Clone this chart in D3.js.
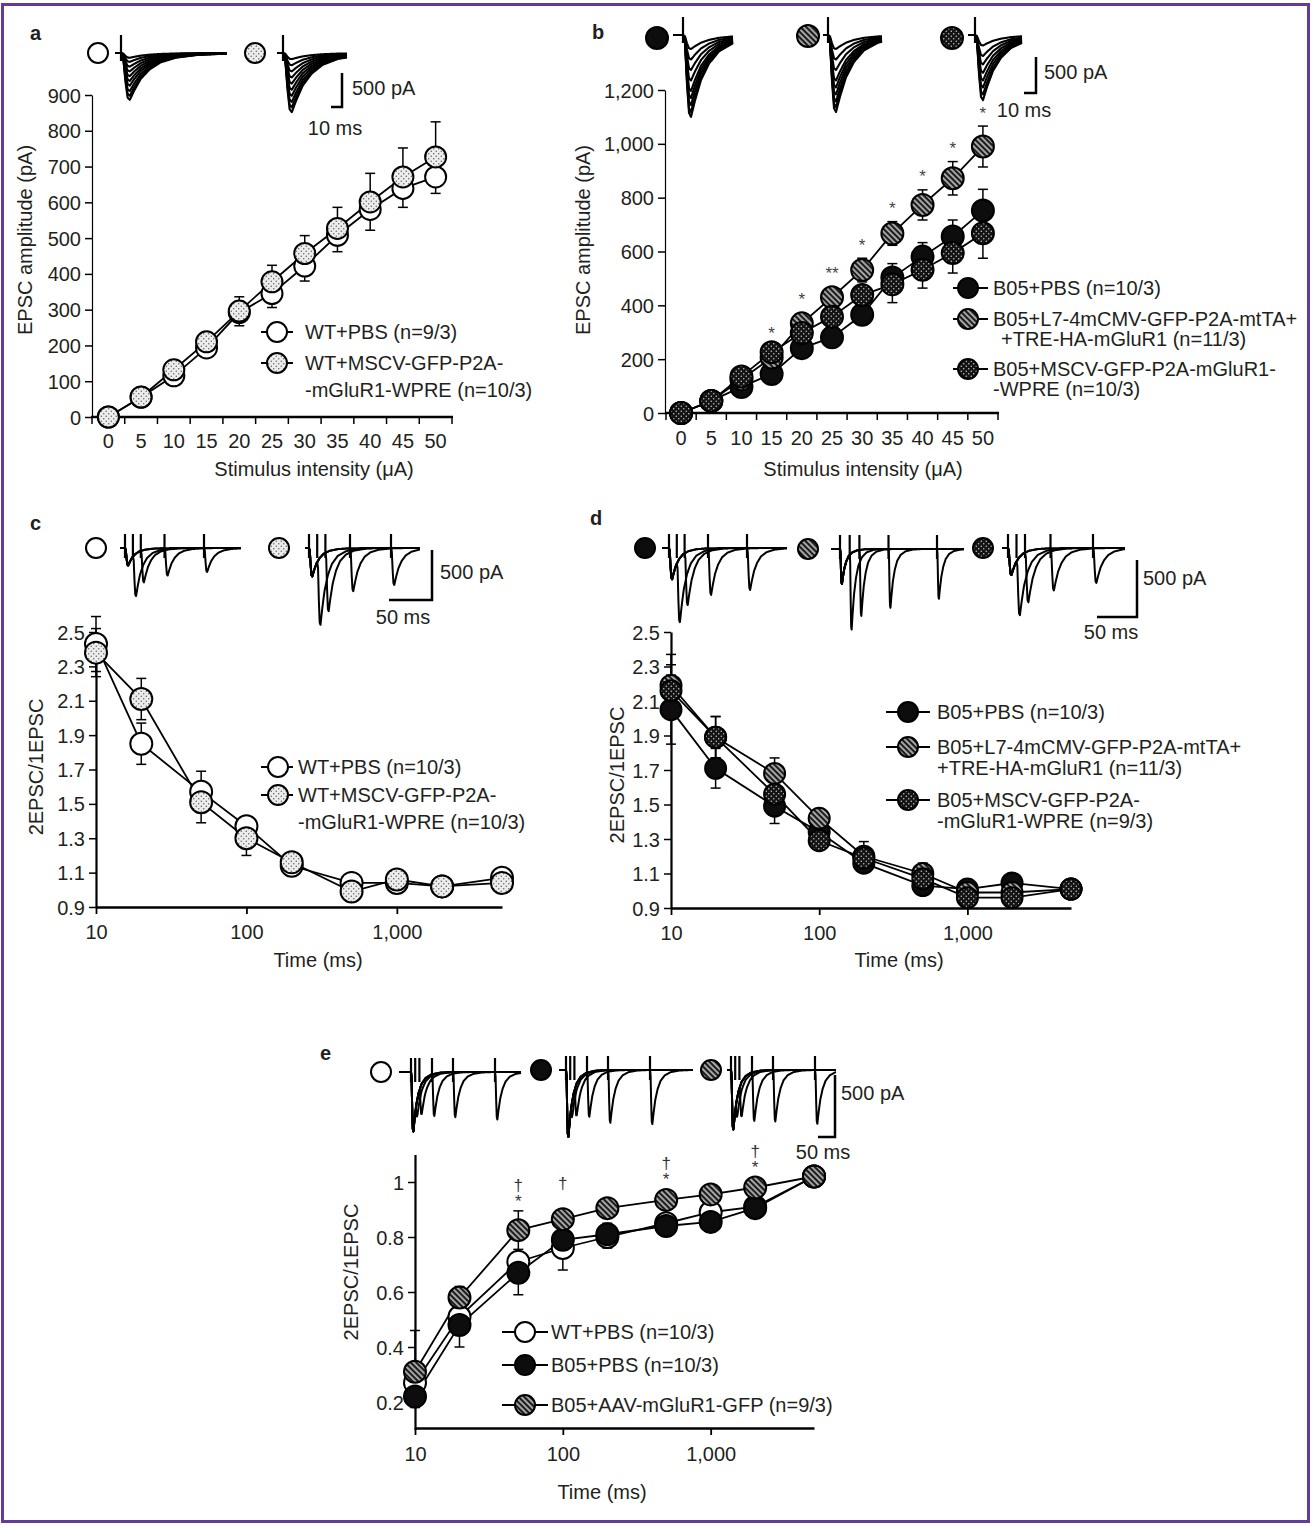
<!DOCTYPE html>
<html><head><meta charset="utf-8">
<script src="https://cdnjs.cloudflare.com/ajax/libs/d3/7.8.5/d3.min.js"></script>
<style>
body{margin:0;background:#fff}
svg{display:block}
text{font-family:"Liberation Sans",Arial,Helvetica,sans-serif;font-size:20px;fill:#231f20}
</style>
</head><body>
<svg id="fig" width="1316" height="1526"></svg>
<script>
// ---------------- DATA ----------------
const stimCats = ["0","5","10","15","20","25","30","35","40","45","50"];
// panel a (EPSC amplitude, pA)
const aWT      = [0, 55, 115, 193, 292, 345, 422, 508, 580, 639, 671];
const aWTErr   = [0, 0, 8, 10, 37, 39, 42, 46, 58, 53, 46];
const aMSCV    = [0, 56, 132, 210, 296, 378, 457, 527, 601, 671, 727];
const aMSCVErr = [0, 0, 8, 10, 40, 46, 50, 59, 80, 81, 98];
// panel b
const bPBS     = [0, 45, 97, 145, 241, 281, 365, 503, 581, 656, 752];
const bPBSErr  = [0, 0, 0, 0, 0, 0, 0, 52, 52, 61, 79];
const bL7      = [0, 45, 125, 206, 333, 430, 531, 667, 773, 872, 990];
const bL7Err   = [0, 0, 0, 0, 0, 0, 44, 44, 56, 62, 76];
const bMSCV    = [0, 45, 136, 226, 297, 358, 438, 478, 532, 594, 668];
const bMSCVErr = [0, 0, 0, 0, 0, 0, 0, 68, 68, 74, 93];
const bSig     = ["", "", "", "*", "*", "**", "*", "*", "*", "*", "*"];
// paired-pulse intervals (ms)
const ppTimes  = [10, 20, 50, 100, 200, 500, 1000, 2000, 5000];
// panel c
const cWT      = [2.43, 1.85, 1.57, 1.37, 1.14, 1.04, 1.04, 1.02, 1.07];
const cWTErr   = [0.16, 0.12, 0.12, 0.05, 0.03, 0.02, 0.02, 0.02, 0.02];
const cMSCV    = [2.38, 2.11, 1.51, 1.30, 1.16, 0.99, 1.06, 1.02, 1.04];
const cMSCVErr = [0.14, 0.12, 0.12, 0.10, 0.03, 0.02, 0.02, 0.02, 0.02];
// panel d
const dPBS     = [2.05, 1.71, 1.49, 1.34, 1.16, 1.03, 1.01, 1.045, 1.01];
const dPBSErr  = [0.20, 0.115, 0.10, 0.04, 0.03, 0.03, 0.02, 0.02, 0.01];
const dL7      = [2.19, 1.89, 1.68, 1.42, 1.20, 1.10, 0.99, 0.99, 1.01];
const dL7Err   = [0.18, 0.12, 0.09, 0.05, 0.085, 0.06, 0.02, 0.02, 0.01];
const dMSCV    = [2.16, 1.89, 1.56, 1.29, 1.19, 1.07, 0.96, 0.96, 1.01];
const dMSCVErr = [0.15, 0.12, 0.08, 0.05, 0.04, 0.03, 0.02, 0.02, 0.01];
// panel e
const eWT      = [0.27, 0.51, 0.71, 0.76, 0.80, 0.85, 0.89, 0.91, 1.02];
const eWTErr   = [0.19, 0.03, 0.02, 0.02, 0.05, 0.02, 0.02, 0.02, 0.01];
const eB05     = [0.22, 0.48, 0.67, 0.79, 0.81, 0.84, 0.855, 0.905, 1.02];
const eB05Err  = [0.04, 0.08, 0.08, 0.11, 0.05, 0.02, 0.02, 0.02, 0.01];
const eAAV     = [0.31, 0.58, 0.825, 0.865, 0.905, 0.935, 0.955, 0.98, 1.02];
const eAAVErr  = [0.03, 0.04, 0.07, 0.03, 0.02, 0.02, 0.02, 0.02, 0.02];
const eDagger  = ["", "", "†", "†", "", "†", "", "†", ""];
const eStar    = ["", "", "*", "", "", "*", "", "*", ""];
// tick values
const aYTicks = [0,100,200,300,400,500,600,700,800,900];
const bYTicks = [0,200,400,600,800,1000,1200];
const ppYTicks = [0.9,1.1,1.3,1.5,1.7,1.9,2.1,2.3,2.5];
const eYTicks = [0.2,0.4,0.6,0.8,1];
const logTicks = [10,100,1000];
// legends
const aLegend = ["WT+PBS (n=9/3)", "WT+MSCV-GFP-P2A-\n-mGluR1-WPRE (n=10/3)"];
const bLegend = ["B05+PBS (n=10/3)", "B05+L7-4mCMV-GFP-P2A-mtTA+\n+TRE-HA-mGluR1 (n=11/3)", "B05+MSCV-GFP-P2A-mGluR1-\n-WPRE (n=10/3)"];
const cLegend = ["WT+PBS (n=10/3)", "WT+MSCV-GFP-P2A-\n-mGluR1-WPRE (n=10/3)"];
const dLegend = ["B05+PBS (n=10/3)", "B05+L7-4mCMV-GFP-P2A-mtTA+\n+TRE-HA-mGluR1 (n=11/3)", "B05+MSCV-GFP-P2A-\n-mGluR1-WPRE (n=9/3)"];
const eLegend = ["WT+PBS (n=10/3)", "B05+PBS (n=10/3)", "B05+AAV-mGluR1-GFP (n=9/3)"];
// example traces: peak amplitudes (pA)
const aTraceWT   = [70, 130, 200, 270, 340, 410, 480, 560, 630, 690];
const aTraceMSCV = [90, 180, 270, 360, 450, 540, 630, 720, 800, 870];
const bTracePBS  = [200, 350, 500, 650, 800, 900, 1000, 1100, 1170];
const bTraceL7   = [200, 350, 500, 650, 750, 850, 950, 1030, 1100];
const bTraceMSCV = [150, 300, 420, 540, 650, 750, 850, 930];
const ppISI_cd = [10, 20, 50, 100];
const ppISI_e  = [10, 20, 50, 100, 200];
// normalised EPSC waveform (ms, fraction of peak)
const epscT = [0, 1, 2, 3, 4, 6, 9, 13, 18, 25, 35, 50, 70];
const epscV = [0, -0.1, -0.6, -0.95, -1, -0.8, -0.55, -0.35, -0.2, -0.1, -0.04, -0.01, 0];

// ---------------- SETUP ----------------
const svg = d3.select("#fig");
const defs = svg.append("defs");
function dotPattern(id, bg, dot){
  const p = defs.append("pattern").attr("id",id).attr("patternUnits","userSpaceOnUse").attr("width",5).attr("height",5);
  p.append("rect").attr("width",5).attr("height",5).attr("fill",bg);
  p.append("circle").attr("cx",1.25).attr("cy",1.25).attr("r",0.7).attr("fill",dot);
  p.append("circle").attr("cx",3.75).attr("cy",3.75).attr("r",0.7).attr("fill",dot);
}
dotPattern("dotLight","#ececec","#555");
dotPattern("dotDark","#141414","#d4d4d4");
const sp = defs.append("pattern").attr("id","stripe").attr("patternUnits","userSpaceOnUse")
  .attr("width",4).attr("height",4).attr("patternTransform","rotate(-45)");
sp.append("rect").attr("width",4).attr("height",4).attr("fill","#1c1c1c");
sp.append("rect").attr("width",1.8).attr("height",4).attr("fill","#b2b2b2");

const F = {open:"#ffffff", solid:"#0d0d0d", dotL:"url(#dotLight)", dotD:"url(#dotDark)", stripe:"url(#stripe)"};

// border
svg.append("rect").attr("x",2.5).attr("y",4.5).attr("width",1306).attr("height",1517)
  .attr("fill","none").attr("stroke","#623c97").attr("stroke-width",3);

function txt(x,y,s,o={}){
  const t = svg.append("text").attr("x",x).attr("y",y).attr("dominant-baseline","central").text(s);
  if(o.anchor) t.attr("text-anchor",o.anchor);
  if(o.size) t.style("font-size",o.size+"px");
  if(o.weight) t.style("font-weight",o.weight);
  if(o.fill) t.style("fill",o.fill);
  if(o.rotate) t.attr("transform",`rotate(-90,${x},${y})`);
  return t;
}

function yAxis(scale, x, ticks, fmt, lw){
  const g = svg.append("g").attr("transform",`translate(${x},0)`)
    .call(d3.axisLeft(scale).tickValues(ticks).tickFormat(fmt).tickSize(7).tickSizeOuter(0).tickPadding(4));
  g.attr("font-size",null).attr("font-family",null);
  g.select(".domain").attr("stroke","#000").attr("stroke-width",lw);
  g.selectAll(".tick line").attr("stroke","#000").attr("stroke-width",1.5);
  g.selectAll(".tick text").attr("dy",null).attr("dominant-baseline","central");
}
function bandXAxis(scale, y, labelY){
  const r = scale.range();
  const g = svg.append("g");
  g.append("line").attr("x1",r[0]-1).attr("x2",r[1]+1).attr("y1",y).attr("y2",y).attr("stroke","#000").attr("stroke-width",2.5);
  const bounds = scale.domain().map(d=>scale(d)).concat([r[1]]);
  g.selectAll(null).data(bounds).join("line").attr("x1",d=>d).attr("x2",d=>d).attr("y1",y).attr("y2",y+7)
    .attr("stroke","#000").attr("stroke-width",1.5);
  g.selectAll(null).data(scale.domain()).join("text").attr("x",d=>scale(d)+scale.bandwidth()/2).attr("y",labelY)
    .attr("text-anchor","middle").attr("dominant-baseline","central").text(d=>d);
}
function logXAxis(scale, y, pad){
  const g = svg.append("g").attr("transform",`translate(0,${y})`)
    .call(d3.axisBottom(scale).tickValues(logTicks).tickFormat(d3.format(",")).tickSize(7).tickSizeOuter(0).tickPadding(pad));
  g.attr("font-size",null).attr("font-family",null);
  g.select(".domain").attr("stroke","#000").attr("stroke-width",2.5);
  g.selectAll(".tick line").attr("stroke","#000").attr("stroke-width",1.8);
}

function drawSeries(xs, ys, series, r){
  const g = svg.append("g");
  series.forEach(s=>{
    g.append("path").datum(s.v.map((v,i)=>[xs(i),ys(v)])).attr("d",d3.line())
      .attr("fill","none").attr("stroke","#000").attr("stroke-width",1.8);
  });
  series.forEach(s=>{
    s.v.forEach((v,i)=>{
      const e = s.e[i]; if(!e) return;
      const x = xs(i);
      const ends = [];
      if(s.dir!=="down") ends.push(ys(v+e));
      if(s.dir!=="up") ends.push(ys(v-e));
      ends.forEach(ye=>{
        g.append("line").attr("x1",x).attr("x2",x).attr("y1",ys(v)).attr("y2",ye).attr("stroke","#000").attr("stroke-width",1.5);
        g.append("line").attr("x1",x-5).attr("x2",x+5).attr("y1",ye).attr("y2",ye).attr("stroke","#000").attr("stroke-width",1.5);
      });
    });
  });
  series.forEach(s=>{
    g.selectAll(null).data(s.v).join("circle").attr("cx",(d,i)=>xs(i)).attr("cy",d=>ys(d)).attr("r",r)
      .attr("fill",s.fill).attr("stroke","#000").attr("stroke-width",2);
  });
}

function legend(cfg){
  cfg.labels.forEach((lab,i)=>{
    const y = cfg.ys[i];
    svg.append("line").attr("x1",cfg.mx-cfg.l).attr("x2",cfg.mx+cfg.rr).attr("y1",y).attr("y2",y)
      .attr("stroke","#000").attr("stroke-width",2);
    svg.append("circle").attr("cx",cfg.mx).attr("cy",y).attr("r",10).attr("fill",cfg.fills[i])
      .attr("stroke","#000").attr("stroke-width",2);
    lab.split("\n").forEach((ln,j)=>{
      const x = j ? (cfg.tx2 && cfg.tx2[i] ? cfg.tx2[i] : cfg.tx) : cfg.tx;
      txt(x, y + j*cfg.lh, ln);
    });
  });
}

function icon(x,y,fill,r=10){
  svg.append("circle").attr("cx",x).attr("cy",y).attr("r",r).attr("fill",fill).attr("stroke","#000").attr("stroke-width",2);
}

// waveform helpers
const shape = d3.scaleLinear().domain(epscT).range(epscV).clamp(true);
const epsc = t => t < 0 ? 0 : shape(t);
function traceScales(c){
  const tx = d3.scaleLinear().domain([0,1]).range([c.x0, c.x0 + c.k]);
  const ty = d3.scaleLinear().domain([0,-500]).range([c.base, c.base + c.bar]);
  const t0 = tx.invert(c.xs), t1 = tx.invert(c.xe);
  const ts = d3.range(t0, t1, 0.1).concat([t1]);
  return {tx, ty, ts};
}
function artifact(g, x, base, up, dn){
  g.append("line").attr("x1",x).attr("x2",x).attr("y1",base-up).attr("y2",base+dn)
    .attr("stroke","#000").attr("stroke-width",2.2);
}
function familyInset(c, amps){
  const {tx, ty, ts} = traceScales(c);
  const g = svg.append("g");
  const w = c.w || 1;
  amps.forEach(A=>{
    g.append("path").datum(ts.map(t=>[tx(t), ty(A*epsc(t/w))])).attr("d",d3.line())
      .attr("fill","none").attr("stroke","#000").attr("stroke-width",2.1).attr("stroke-linejoin","round");
  });
  artifact(g, tx(0), c.base, 18, 8);
}
function ppInset(c, A1, isis, ratioSeries){
  const {tx, ty, ts} = traceScales(c);
  const g = svg.append("g");
  const w = c.w || 1;
  isis.forEach(isi=>{
    const A2 = A1 * ratioSeries[ppTimes.indexOf(isi)];
    g.append("path").datum(ts.map(t=>[tx(t), ty(A1*epsc(t/w) + A2*epsc((t-isi)/w))])).attr("d",d3.line())
      .attr("fill","none").attr("stroke","#000").attr("stroke-width",2).attr("stroke-linejoin","round");
    artifact(g, tx(isi), c.base, 14, 10);
  });
  artifact(g, tx(0), c.base, 14, 10);
}
function scaleBar(xv, y1, y2, xh, lab1, lab1x, lab1y, lab2, lab2x, lab2y){
  svg.append("path").attr("d",`M${xv},${y1}V${y2}H${xh}`).attr("fill","none").attr("stroke","#000").attr("stroke-width",2.5);
  txt(lab1x, lab1y, lab1);
  txt(lab2x, lab2y, lab2, {anchor:"middle"});
}

// ---------------- PANEL A ----------------
txt(30, 33, "a", {weight:"bold"});
const aX = d3.scaleBand().domain(stimCats).range([92, 452]);
const aY = d3.scaleLinear().domain([0, 900]).range([417, 95]);
yAxis(aY, 92, aYTicks, d3.format(","), 1.2);
bandXAxis(aX, 417, 441);
txt(314, 469, "Stimulus intensity (\u03bcA)", {anchor:"middle"});
txt(25, 240, "EPSC amplitude (pA)", {anchor:"middle", rotate:true});
drawSeries(i=>aX(stimCats[i])+aX.bandwidth()/2, aY, [
  {v:aWT, e:aWTErr, dir:"down", fill:F.open},
  {v:aMSCV, e:aMSCVErr, dir:"up", fill:F.dotL}
], 10.5);
legend({mx:277, l:16, rr:16, tx:305, lh:27, ys:[332, 363], labels:aLegend, fills:[F.open, F.dotL]});
icon(98, 53, F.open); icon(255, 53, F.dotL);
familyInset({base:53, xs:115, x0:121, xe:227, k:2.2, bar:34}, aTraceWT);
familyInset({base:53, xs:277, x0:283, xe:347, k:2.2, bar:34}, aTraceMSCV);
scaleBar(342, 73, 107, 331, "500 pA", 352, 88, "10 ms", 335, 128);

// ---------------- PANEL B ----------------
txt(592, 32, "b", {weight:"bold"});
const bX = d3.scaleBand().domain(stimCats).range([666, 998]);
const bY = d3.scaleLinear().domain([0, 1200]).range([413, 90]);
yAxis(bY, 665, bYTicks, d3.format(","), 1.2);
bandXAxis(bX, 413, 438);
txt(863, 469, "Stimulus intensity (\u03bcA)", {anchor:"middle"});
txt(583, 240, "EPSC amplitude (pA)", {anchor:"middle", rotate:true});
const bxs = i=>bX(stimCats[i])+bX.bandwidth()/2;
drawSeries(bxs, bY, [
  {v:bPBS, e:bPBSErr, dir:"up", fill:F.solid},
  {v:bL7, e:bL7Err, dir:"both", fill:F.stripe},
  {v:bMSCV, e:bMSCVErr, dir:"down", fill:F.dotD}
], 11);
bSig.forEach((s,i)=>{
  if(!s) return;
  const top = Math.min(bY(bL7[i]+bL7Err[i]), bY(bL7[i])-11);
  txt(bxs(i), top-13, s, {anchor:"middle", size:17, fill:"#444"});
});
legend({mx:968, l:15, rr:20, tx:993, lh:20, ys:[288, 319, 369], labels:bLegend, fills:[F.solid, F.stripe, F.dotD], tx2:[0, 1001, 0]});
icon(657, 38, F.solid, 11); icon(808, 36, F.stripe, 11); icon(952, 38, F.dotD, 11);
familyInset({base:35, xs:673, x0:683, xe:733, k:2.0, bar:35}, bTracePBS);
familyInset({base:35, xs:823, x0:828, xe:882, k:2.0, bar:35}, bTraceL7);
familyInset({base:35, xs:968, x0:975, xe:1022, k:2.0, bar:35}, bTraceMSCV);
scaleBar(1036, 57, 93, 1024, "500 pA", 1044, 72, "10 ms", 1024, 110);

// ---------------- PANEL C ----------------
txt(30, 523, "c", {weight:"bold"});
const cX = d3.scaleLog().domain([10, 5000]).range([96, 502]);
const cY = d3.scaleLinear().domain([0.9, 2.5]).range([907, 632]);
yAxis(cY, 96, ppYTicks, d3.format(".1f"), 2.2);
logXAxis(cX, 907, 11);
txt(318, 960, "Time (ms)", {anchor:"middle"});
txt(36, 767, "2EPSC/1EPSC", {anchor:"middle", rotate:true});
drawSeries(i=>cX(ppTimes[i]), cY, [
  {v:cWT, e:cWTErr, dir:"both", fill:F.open},
  {v:cMSCV, e:cMSCVErr, dir:"both", fill:F.dotL}
], 11);
legend({mx:278, l:17, rr:15, tx:298, lh:27, ys:[767, 795], labels:cLegend, fills:[F.open, F.dotL]});
icon(96, 548, F.open); icon(279, 548, F.dotL);
ppInset({base:548, xs:120, x0:125, xe:241, k:0.79, bar:50}, 175, ppISI_cd, cWT);
ppInset({base:548, xs:305, x0:309, xe:420, k:0.82, bar:50}, 285, ppISI_cd, cMSCV);
scaleBar(432, 550, 600, 389, "500 pA", 440, 572, "50 ms", 403, 617);

// ---------------- PANEL D ----------------
txt(590, 518, "d", {weight:"bold"});
const dX = d3.scaleLog().domain([10, 5000]).range([671, 1071]);
const dY = d3.scaleLinear().domain([0.9, 2.5]).range([908, 632]);
yAxis(dY, 671, ppYTicks, d3.format(".1f"), 2.2);
logXAxis(dX, 908, 11);
txt(899, 960, "Time (ms)", {anchor:"middle"});
txt(617, 775, "2EPSC/1EPSC", {anchor:"middle", rotate:true});
drawSeries(i=>dX(ppTimes[i]), dY, [
  {v:dPBS, e:dPBSErr, dir:"both", fill:F.solid},
  {v:dL7, e:dL7Err, dir:"both", fill:F.stripe},
  {v:dMSCV, e:dMSCVErr, dir:"both", fill:F.dotD}
], 10.5);
legend({mx:908, l:22, rr:22, tx:937, lh:21, ys:[712, 747, 800], labels:dLegend, fills:[F.solid, F.stripe, F.dotD]});
icon(645, 548, F.solid); icon(808, 549, F.stripe); icon(983, 548, F.dotD);
ppInset({base:548, xs:662, x0:669, xe:787, k:0.78, bar:57}, 275, ppISI_cd, dPBS);
ppInset({base:549, xs:831, x0:840, xe:964, k:0.97, w:0.5, bar:57}, 308, ppISI_cd, dL7);
ppInset({base:548, xs:1002, x0:1008, xe:1125, k:0.85, bar:57}, 238, ppISI_cd, dMSCV);
scaleBar(1137, 560, 617, 1097, "500 pA", 1143, 578, "50 ms", 1111, 632);

// ---------------- PANEL E ----------------
txt(320, 1053, "e", {weight:"bold"});
const eX = d3.scaleLog().domain([10, 5000]).range([415, 814]);
const eY = d3.scaleLinear().domain([0.1, 1.1]).range([1429.5, 1154.5]);
yAxis(eY, 415, eYTicks, d3.format(""), 2.2);
logXAxis(eX, 1428, 12);
txt(602, 1492, "Time (ms)", {anchor:"middle"});
txt(351, 1272, "2EPSC/1EPSC", {anchor:"middle", rotate:true});
const exs = i=>eX(ppTimes[i]);
drawSeries(exs, eY, [
  {v:eWT, e:eWTErr, dir:"up", fill:F.open},
  {v:eB05, e:eB05Err, dir:"down", fill:F.solid},
  {v:eAAV, e:eAAVErr, dir:"both", fill:F.stripe}
], 11);
eAAV.forEach((v,i)=>{
  const top = Math.min(eY(v+eAAVErr[i]), eY(v)-11);
  if(eStar[i]) txt(exs(i), top-9, eStar[i], {anchor:"middle", size:17, fill:"#333"});
  if(eDagger[i]) txt(exs(i), top-25, eDagger[i], {anchor:"middle", size:17, fill:"#333"});
});
legend({mx:525, l:23, rr:23, tx:551, lh:0, ys:[1332, 1365, 1405], labels:eLegend, fills:[F.open, F.solid, F.stripe]});
icon(381, 1072, F.open); icon(541, 1070, F.solid); icon(711, 1070, F.stripe);
ppInset({base:1072, xs:399, x0:411, xe:521, k:0.42, w:1.4, bar:62}, 480, ppISI_e, eWT);
ppInset({base:1070, xs:559, x0:566, xe:693, k:0.42, w:1.4, bar:62}, 540, ppISI_e, eB05);
ppInset({base:1070, xs:727, x0:731, xe:836, k:0.42, w:1.4, bar:62}, 480, ppISI_e, eAAV);
scaleBar(835, 1075, 1137, 818, "500 pA", 841, 1093, "50 ms", 823, 1152);
</script>
</body></html>
